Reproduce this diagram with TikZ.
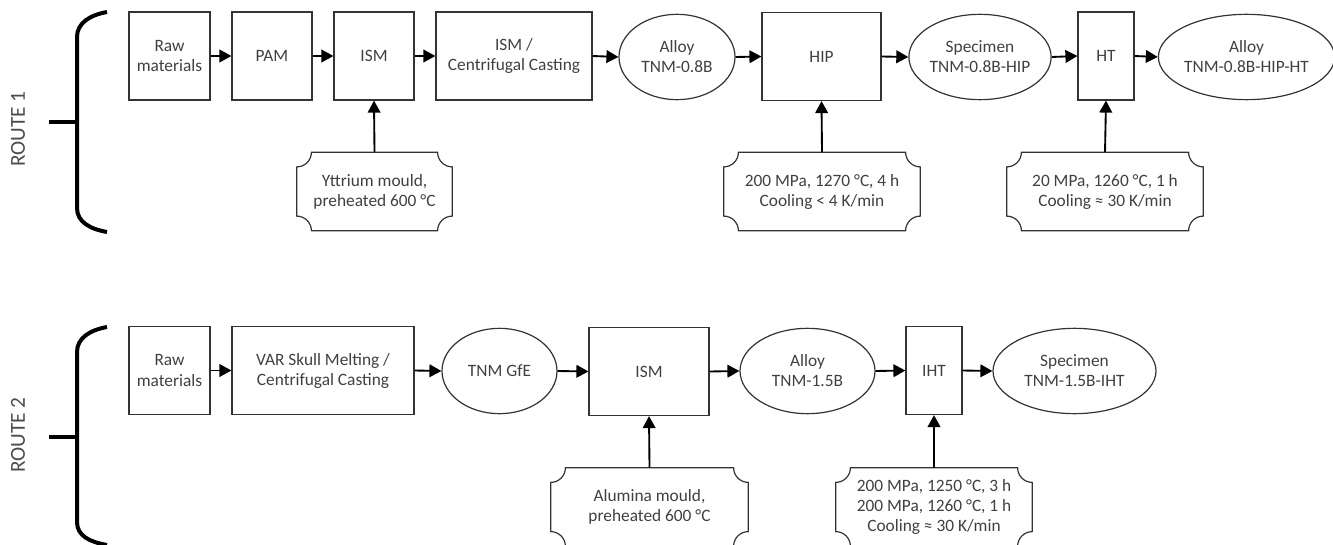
\documentclass[tikz,border=0pt]{standalone}
\usepackage{fontspec}
\setmainfont{Carlito}
\usetikzlibrary{shapes.geometric,arrows.meta}

\begin{document}
\begin{tikzpicture}[x=0.75pt,y=0.75pt,
  every node/.style={font=\fontsize{13}{15}\selectfont, text=black!75, align=center, inner sep=0pt},
  box/.style={draw=black!80, line width=0.9pt, minimum width=#1*0.75pt, minimum height=66pt},
  blob/.style={ellipse, draw=black!80, line width=0.9pt, minimum width=#1*0.75pt, minimum height=64pt},
  cond/.style={minimum width=#1*0.75pt, minimum height=58.5pt},
  condline/.style={draw=black!80, line width=0.9pt},
  flow/.style={-{Triangle[length=9pt,width=9.5pt]}, line width=1.4pt},
  brace/.style={line width=3pt},
  route/.style={rotate=90, font=\fontsize{16}{18}\selectfont, text=black!70}]
  \useasboundingbox (0,0) rectangle (1333,-545);

  % Route 1
  \node[route] (r1) at (18,-129) {ROUTE 1};
  \draw[brace] (107,-12) .. controls (90,-15) and (77,-23) .. (77,-37) -- (77,-208)
    .. controls (77,-222) and (90,-229) .. (107,-232);
  \draw[brace] (49,-122) -- (77,-122);
  \node[box=81] (raw1) at (169.5,-56) {Raw\\materials};
  \node[box=80] (pam) at (272,-56) {PAM};
  \node[box=80] (ism1) at (374,-56) {ISM};
  \node[box=156] (cast) at (514,-56) {ISM /\\Centrifugal Casting};
  \node[blob=116] (alloy1) at (677,-57) {Alloy\\TNM-0.8B};
  \node[box=119] (hip) at (821.5,-56.5) {HIP};
  \node[blob=136] (spec1) at (980,-57) {Specimen\\TNM-0.8B-HIP};
  \node[box=56] (ht) at (1106,-56) {HT};
  \node[blob=163] (alloy2) at (1246.5,-57) {Alloy\\TNM-0.8B-HIP-HT};
  % process conditions
  \node[cond=155] (ymould) at (374.5,-191.5) {Yttrium mould,\\preheated 600 °C};
  \node[cond=196] (hipcond) at (822,-191.5) {200 MPa, 1270 °C, 4 h\\Cooling < 4 K/min};
  \node[cond=196] (htcond) at (1105,-191.5) {20 MPa, 1260 °C, 1 h\\Cooling ≈ 30 K/min};

  % Route 2
  \node[route] (r2) at (18,-435) {ROUTE 2};
  \draw[brace] (107,-327) .. controls (90,-330) and (77,-338) .. (77,-352) -- (77,-522)
    .. controls (77,-536) and (90,-542) .. (107,-545);
  \draw[brace] (49,-437) -- (77,-437);
  \node[box=81] (raw2) at (169.5,-370.5) {Raw\\materials};
  \node[box=182] (var) at (323,-370.5) {VAR Skull Melting /\\Centrifugal Casting};
  \node[blob=115] (gfe) at (499.5,-371) {TNM GfE};
  \node[box=120] (ism2) at (649,-371.5) {ISM};
  \node[blob=135] (alloy3) at (807.5,-371) {Alloy\\TNM-1.5B};
  \node[box=56] (iht) at (934,-370.5) {IHT};
  \node[blob=163] (spec2) at (1074.5,-371) {Specimen\\TNM-1.5B-IHT};
  \node[cond=197] (amould) at (649.5,-507) {Alumina mould,\\preheated 600 °C};
  \node[cond=196] (ihtcond) at (934,-507) {200 MPa, 1250 °C, 3 h\\200 MPa, 1260 °C, 1 h\\Cooling ≈ 30 K/min};

  % plaque outlines
  \foreach \n in {ymould,hipcond,htcond,amould,ihtcond}
    \draw[condline] ([xshift=11pt]\n.north west) -- ([xshift=-11pt]\n.north east)
      arc[start angle=180,end angle=270,radius=11pt] -- ([yshift=11pt]\n.south east)
      arc[start angle=90,end angle=180,radius=11pt] -- ([xshift=11pt]\n.south west)
      arc[start angle=0,end angle=90,radius=11pt] -- ([yshift=-11pt]\n.north west)
      arc[start angle=270,end angle=360,radius=11pt] -- cycle;

  % flow
  \foreach \a/\b in {raw1/pam,pam/ism1,ism1/cast,cast/alloy1,alloy1/hip,hip/spec1,spec1/ht,ht/alloy2,
      raw2/var,var/gfe,gfe/ism2,ism2/alloy3,alloy3/iht,iht/spec2}
    \draw[flow] (\a.east) -- (\b.west);
  \foreach \a/\b in {ymould/ism1,hipcond/hip,htcond/ht,amould/ism2,ihtcond/iht}
    \draw[flow] (\a.north) -- (\b.south);
\end{tikzpicture}
\end{document}
